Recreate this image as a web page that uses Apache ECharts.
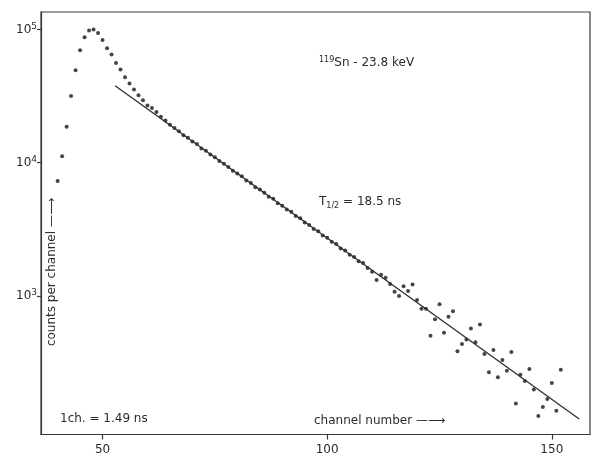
<!DOCTYPE html>
<html>
<head>
<meta charset="utf-8">
<script src="https://cdn.jsdelivr.net/npm/echarts@6/dist/echarts.min.js"></script>
<style>
    html, body { margin: 0; padding: 0; background: #ffffff; }
    #chart { width: 592px; height: 458px; }
</style>
</head>
<body>
<div id="chart"></div>
<script>
// channel of the first measured point, one point per channel after that
var firstChannel = 40;

// counts per channel (channels 40 .. 152)
var counts = [
    7300, 11200, 18600, 31700, 49500, 70000, 87500, 98300, 100000, 94300,
    83500, 72400, 64900, 56100, 50100, 43900, 39300, 35500, 32100, 29500,
    26900, 25800, 24000, 22100, 20700, 19300, 18200, 17200, 16100, 15400,
    14400, 13800, 12800, 12300, 11500, 11000, 10300, 9800, 9300, 8700,
    8300, 7900, 7350, 7050, 6550, 6300, 5950, 5550, 5350, 4950,
    4750, 4450, 4280, 3980, 3820, 3550, 3400, 3180, 3060, 2840,
    2730, 2550, 2450, 2270, 2190, 2030, 1960, 1820, 1760, 1620,
    1514, 1312, 1438, 1365, 1224, 1072, 995, 1182, 1085, 1218,
    929, 801, 801, 500, 668, 864, 527, 695, 767, 383,
    435, 469, 569, 448, 610, 366, 266, 391, 244, 330,
    274, 378, 155, 255, 229, 282, 198, 125, 146, 168,
    221, 137, 278
];

// straight-line fit (T1/2 = 18.5 ns)
var fitChannels = [52.8, 156.1];
var fitCounts = [37800, 118.6];

// axis ticks
var xTicks = [50, 100, 150];
var yTicks = [1000, 10000, 100000];
var yTickLabels = { 1000: "{b|10}{s|3}", 10000: "{b|10}{s|4}", 100000: "{b|10}{s|5}" };

var points = [];
for (var i = 0; i < counts.length; i++)
{
    points.push([firstChannel + i, counts[i]]);
}
var fitLine = [];
for (var j = 0; j < fitChannels.length; j++)
{
    fitLine.push([fitChannels[j], fitCounts[j]]);
}

var textColor = "#2b2b2b";
var font = "12px 'DejaVu Sans'";

var chart = echarts.init(document.getElementById("chart"));

chart.setOption({
    backgroundColor: "#ffffff",
    animation: false,
    grid:
    {
        left: 41,
        right: 2,
        top: 12,
        bottom: 23.5,
        show: true,
        borderColor: "#3a3a3a",
        borderWidth: 1.2,
        outerBoundsMode: "none"
    },
    xAxis:
    {
        type: "value",
        min: 36.3,
        max: 158.5,
        axisLine: { lineStyle: { color: "#3a3a3a", width: 1.2 } },
        axisTick:
        {
            customValues: xTicks,
            length: 5,
            lineStyle: { color: "#3a3a3a", width: 1.2 }
        },
        axisLabel:
        {
            customValues: xTicks,
            margin: 9,
            color: textColor,
            fontFamily: "DejaVu Sans",
            fontSize: 12
        },
        splitLine: { show: false }
    },
    yAxis:
    {
        type: "log",
        logBase: 10,
        min: 90.8,
        max: 135500,
        axisLine: { show: true, lineStyle: { color: "#3a3a3a", width: 1.2 } },
        axisTick:
        {
            show: true,
            customValues: yTicks,
            length: 4,
            lineStyle: { color: "#3a3a3a", width: 1.2 }
        },
        axisLabel:
        {
            customValues: yTicks,
            margin: 4,
            color: textColor,
            formatter: function (value)
            {
                return yTickLabels[Math.round(value)] || "";
            },
            rich:
            {
                b: { fontSize: 12, fontFamily: "DejaVu Sans", color: textColor },
                s: { fontSize: 9, fontFamily: "DejaVu Sans", color: textColor, padding: [0, 0, 6, 0] }
            }
        },
        splitLine: { show: false },
        minorTick: { show: false }
    },
    series: [
        {
            type: "scatter",
            data: points,
            symbolSize: 4,
            itemStyle: { color: "#161616" }
        },
        {
            type: "line",
            data: fitLine,
            showSymbol: false,
            lineStyle: { color: "#2e2e2e", width: 1.3 }
        }
    ],
    graphic: [
        {
            type: "text",
            x: 319,
            y: 63,
            style:
            {
                text: "{s|119}{n|Sn - 23.8 keV}",
                textVerticalAlign: "middle",
                fill: textColor,
                rich:
                {
                    s: { fontSize: 8, fontFamily: "DejaVu Sans", fill: textColor, padding: [0, 0, 7, 0] },
                    n: { fontSize: 12, fontFamily: "DejaVu Sans", fill: textColor }
                }
            }
        },
        {
            type: "text",
            x: 319,
            y: 202,
            style:
            {
                text: "{n|T}{s|1/2}{n| = 18.5 ns}",
                textVerticalAlign: "middle",
                fill: textColor,
                rich:
                {
                    s: { fontSize: 8, fontFamily: "DejaVu Sans", fill: textColor, padding: [7, 0, 0, 0] },
                    n: { fontSize: 12, fontFamily: "DejaVu Sans", fill: textColor }
                }
            }
        },
        {
            type: "text",
            x: 60,
            y: 419,
            style:
            {
                text: "1ch. = 1.49 ns",
                font: font,
                fill: textColor,
                textVerticalAlign: "middle"
            }
        },
        {
            type: "text",
            x: 314,
            y: 421,
            style:
            {
                text: "channel number \u2014\u27f6",
                font: font,
                fill: textColor,
                textVerticalAlign: "middle"
            }
        },
        {
            type: "text",
            x: 52,
            y: 272,
            rotation: Math.PI / 2,
            style:
            {
                text: "counts per channel \u2014\u27f6",
                font: font,
                fill: textColor,
                textAlign: "center",
                textVerticalAlign: "middle"
            }
        }
    ]
});
</script>
</body>
</html>
